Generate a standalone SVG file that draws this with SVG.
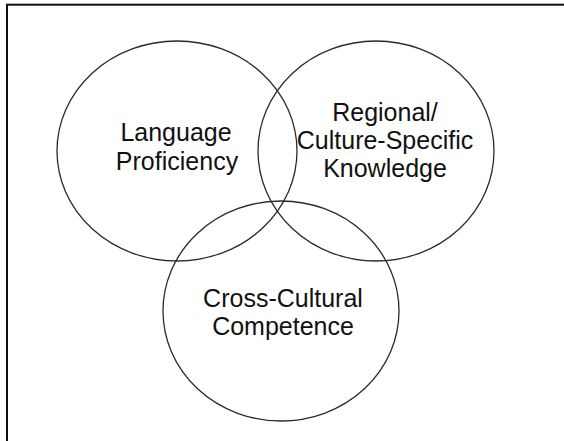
<svg xmlns="http://www.w3.org/2000/svg" width="564" height="441" viewBox="0 0 564 441">
  <style>
    .c { fill: none; stroke: #2a2a2a; stroke-width: 1.3; }
    .t { font-family: "Liberation Sans", Arial, sans-serif; font-size: 25px; fill: #111; text-anchor: middle; }
  </style>
  <rect x="0" y="0" width="564" height="441" fill="#ffffff"/>
  <rect x="7" y="4.7" width="600" height="480" fill="none" stroke="#111" stroke-width="2"/>
  <g id="language-proficiency">
    <ellipse class="c" cx="177" cy="151" rx="120" ry="110"/>
    <text class="t" x="176" y="141">Language</text>
    <text class="t" x="177" y="170">Proficiency</text>
  </g>
  <g id="regional-knowledge">
    <ellipse class="c" cx="376" cy="151" rx="118" ry="110"/>
    <text class="t" x="385" y="121">Regional/</text>
    <text class="t" x="385" y="149">Culture-Specific</text>
    <text class="t" x="385" y="177">Knowledge</text>
  </g>
  <g id="cross-cultural-competence">
    <ellipse class="c" cx="281" cy="311" rx="118" ry="110"/>
    <text class="t" x="283" y="307">Cross-Cultural</text>
    <text class="t" x="283" y="335">Competence</text>
  </g>
  <g id="connectors"></g>
</svg>
